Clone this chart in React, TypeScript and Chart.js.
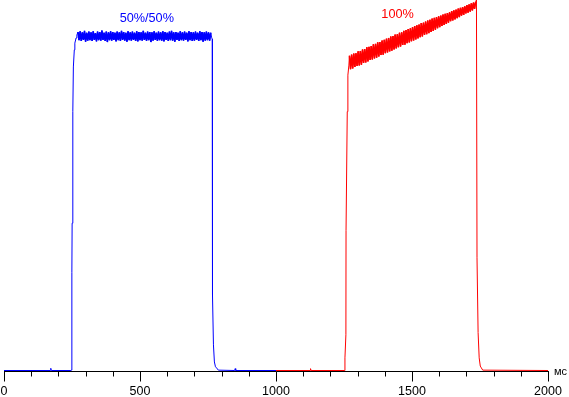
import React, { useEffect, useRef } from 'react';
import { Chart, registerables } from 'chart.js';

Chart.register(...registerables);

// ---- axis / labels ----
const X_MIN = 0;
const X_MAX = 2000;
const xMajorStep = 500;
const xMinorStep = 100;
const unitLabel = 'мс';
const seriesNames = ['50%/50%', '100%'];
const seriesLabelX = [525, 1447];
const seriesLabelY = [95, 96];

// ---- series data (time in ms, brightness in % of scale) ----
const PLATEAU_STEP = 4;

// blue (50%/50%)
const blueLeadT = [0, 170, 172, 174, 246, 249, 249.5, 250.5, 253, 255, 258.5, 260.5, 265, 268];
const blueLeadV = [0.4, 0.4, 1.0, 0.4, 0.4, 0.5, 26.7, 40, 70, 82, 86.6, 88.4, 89.8, 90.6];
const bluePlateauStart = 272;
const bluePlateau = [
  91.4, 89.2, 91.6, 89.0, 91.3, 89.3, 91.7, 88.8, 91.2, 89.1, 91.5, 89.2,
  91.3, 89.0, 91.6, 89.3, 91.1, 88.9, 91.5, 89.2, 91.4, 89.1, 91.8, 89.3,
  91.2, 89.0, 91.5, 88.7, 91.3, 89.2, 91.6, 89.1, 91.4, 89.3, 91.2, 88.9,
  91.5, 89.2, 91.3, 89.0, 91.7, 89.3, 91.4, 89.1, 91.2, 88.8, 91.6, 89.2,
  91.3, 89.1, 91.5, 89.3, 91.2, 89.0, 91.6, 88.9, 91.4, 89.2, 91.3, 89.1,
  91.7, 89.3, 91.2, 89.0, 91.5, 89.2, 91.4, 88.7, 91.3, 89.1, 91.6, 89.3,
  91.2, 89.0, 91.5, 89.2, 91.3, 89.1, 91.6, 88.9, 91.4, 89.3, 91.2, 89.0,
  91.5, 89.2, 91.7, 89.1, 91.3, 88.8, 91.4, 89.3, 91.2, 89.0, 91.6, 89.2,
  91.3, 89.1, 91.5, 89.3, 91.2, 88.9, 91.6, 89.2, 91.4, 89.0, 91.3, 89.1,
  91.5, 89.3, 91.2, 89.0, 91.6, 89.2, 91.4, 88.8, 91.3, 89.1, 91.5, 89.2,
  91.3, 89.1, 91.2,
];
const blueTailT = [763, 765.5, 766.5, 770, 773.5, 777.5, 781.5, 788, 848, 850, 852, 1000];
const blueTailV = [90.0, 89.5, 20.7, 7.3, 2.7, 1.4, 1.1, 0.5, 0.4, 0.9, 0.4, 0.4];

// red (100%)
const redLeadT = [1000, 1125, 1127, 1129, 1253, 1253.5, 1257, 1257.5, 1262, 1264, 1264.5, 1268];
const redLeadV = [0.4, 0.4, 0.9, 0.4, 0.4, 3.8, 10, 38, 70, 75.8, 79.8, 82.5];
const redPlateauStart = 1270;
const redPlateau = [
  85.0, 81.4, 85.3, 81.6, 85.6, 82.0, 85.7, 82.3, 86.2, 82.4,
  86.3, 82.6, 86.7, 83.1, 86.8, 83.2, 87.3, 83.5, 87.4, 83.9,
  87.6, 84.0, 88.1, 84.3, 88.2, 84.5, 88.6, 84.8, 88.7, 85.2,
  89.1, 85.3, 89.3, 85.7, 89.6, 85.9, 89.8, 86.2, 90.2, 86.4,
  90.3, 86.7, 90.7, 87.0, 90.8, 87.3, 91.2, 87.5, 91.3, 87.9,
  91.7, 88.0, 91.9, 88.4, 92.2, 88.6, 92.4, 88.9, 92.7, 89.1,
  93.0, 89.4, 93.2, 89.7, 93.4, 90.0, 93.8, 90.2, 93.9, 90.6,
  94.2, 90.8, 94.5, 91.1, 94.7, 91.4, 95.0, 91.7, 95.2, 92.0,
  95.4, 92.4, 95.6, 92.7, 95.8, 93.0, 96.1, 93.3, 96.3, 93.6,
  96.5, 93.9, 96.7, 94.3, 97.0, 94.5, 97.2, 94.8, 97.4, 95.1,
  97.7, 95.4, 97.9, 95.8, 98.1, 96.0, 98.3, 96.4, 98.6, 96.6,
  98.8, 96.9, 99.1, 97.2, 99.3, 97.6, 99.5,
];
const redTailT = [1737, 1739, 1743, 1747, 1751, 1755, 1760, 2000];
const redTailV = [100, 30.7, 10.6, 3.8, 1.6, 1.1, 0.5, 0.4];

const BLUE = '#0000ff';
const RED = '#ff0000';
const FONT = '"Liberation Sans", Arial, sans-serif';

function buildSeries(
  leadT: number[], leadV: number[], start: number, plateau: number[],
  tailT: number[], tailV: number[]
) {
  const pts: { x: number; y: number }[] = [];
  leadT.forEach((t, i) => pts.push({ x: t, y: leadV[i] }));
  plateau.forEach((v, i) => pts.push({ x: start + i * PLATEAU_STEP, y: v }));
  tailT.forEach((t, i) => pts.push({ x: t, y: tailV[i] }));
  return pts;
}

function plateauPoints(start: number, plateau: number[]) {
  return plateau.map((v, i) => ({ x: start + i * PLATEAU_STEP, y: v }));
}

const overlayPlugin = {
  id: 'overlay',
  afterDraw(chart: any) {
    const { ctx, chartArea, scales } = chart;
    const x = scales.x;
    const y = scales.y;
    const axisY = Math.floor(chartArea.bottom) - 0.5;
    ctx.save();
    ctx.strokeStyle = '#000';
    ctx.lineWidth = 1;
    ctx.beginPath();
    ctx.moveTo(Math.round(x.getPixelForValue(X_MIN)), axisY);
    ctx.lineTo(Math.round(x.getPixelForValue(X_MAX)) + 1, axisY);
    ctx.stroke();
    for (let v = X_MIN; v <= X_MAX; v += xMinorStep) {
      const px = Math.round(x.getPixelForValue(v)) + 0.5;
      const len = v % xMajorStep === 0 ? 10 : 5;
      ctx.beginPath();
      ctx.moveTo(px, axisY);
      ctx.lineTo(px, axisY + len);
      ctx.stroke();
    }
    // unit label
    ctx.fillStyle = '#000';
    ctx.font = `11px ${FONT}`;
    ctx.textAlign = 'left';
    ctx.textBaseline = 'middle';
    ctx.fillText(unitLabel, chartArea.right + 6, axisY);
    // series labels
    ctx.font = `12.7px ${FONT}`;
    ctx.textAlign = 'center';
    const colors = [BLUE, RED];
    seriesNames.forEach((name, i) => {
      ctx.fillStyle = colors[i];
      ctx.fillText(name, x.getPixelForValue(seriesLabelX[i]), y.getPixelForValue(seriesLabelY[i]));
    });
    ctx.restore();
  },
};

const lineStyle = {
  pointRadius: 0, pointHoverRadius: 0, pointHitRadius: 0, tension: 0, fill: false,
  borderJoinStyle: 'bevel' as const,
};

export default function App() {
  const canvasRef = useRef<HTMLCanvasElement | null>(null);

  useEffect(() => {
    document.body.style.margin = '0';
    const canvas = canvasRef.current;
    if (!canvas) return;
    const blue = buildSeries(blueLeadT, blueLeadV, bluePlateauStart, bluePlateau, blueTailT, blueTailV);
    const red = buildSeries(redLeadT, redLeadV, redPlateauStart, redPlateau, redTailT, redTailV);
    const chart = new Chart(canvas, {
      type: 'line',
      data: {
        datasets: [
          { label: seriesNames[0], data: blue, borderColor: BLUE, borderWidth: 1, ...lineStyle },
          { label: seriesNames[1], data: red, borderColor: RED, borderWidth: 1, ...lineStyle },
          // ripple overlay (same samples, heavier stroke)
          { label: seriesNames[0] + ' ripple', data: plateauPoints(bluePlateauStart, bluePlateau), borderColor: BLUE, borderWidth: 1.6, ...lineStyle },
          { label: seriesNames[1] + ' ripple', data: plateauPoints(redPlateauStart, redPlateau), borderColor: RED, borderWidth: 1.6, ...lineStyle },
        ],
      },
      options: {
        animation: false,
        responsive: false,
        devicePixelRatio: 1,
        events: [],
        layout: { autoPadding: false, padding: { left: 4, right: 21, top: 0, bottom: 0 } },
        plugins: { legend: { display: false }, tooltip: { enabled: false } },
        scales: {
          x: {
            type: 'linear',
            min: X_MIN,
            max: X_MAX,
            grid: { display: false, drawTicks: true, tickLength: 12 },
            border: { display: false },
            ticks: {
              stepSize: xMinorStep,
              autoSkip: false,
              maxRotation: 0,
              padding: 0,
              color: '#000',
              font: { family: FONT, size: 12.5 },
              callback: (v: any) => (Number(v) % xMajorStep === 0 ? String(v) : ''),
            },
            afterFit: (scale: any) => { scale.height = 25; },
          },
          y: { display: false, min: 0, max: 100 },
        },
      },
      plugins: [overlayPlugin],
    });
    return () => chart.destroy();
  }, []);

  return (
    <div style={{ width: 569, height: 397 }}>
      <canvas ref={canvasRef} width={569} height={397} style={{ display: 'block' }} />
    </div>
  );
}
